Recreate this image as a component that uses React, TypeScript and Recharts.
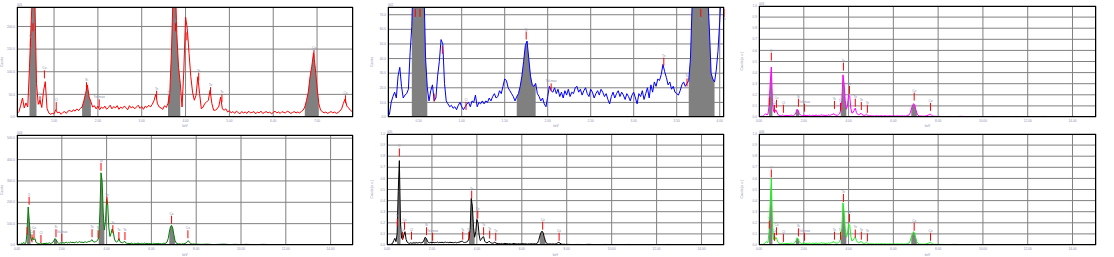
import {
  ComposedChart,
  Line,
  Area,
  XAxis,
  YAxis,
  CartesianGrid,
  ReferenceLine,
} from "recharts";

const TEXT = "#8c8cab";
const GRID = "#808080";
const FONT = "'Liberation Sans', Arial, sans-serif";
const FS = 3.2;

type Peak = [number, number, string];

// 001 – red, counts, 0.16..7.84 keV every 0.04 keV
const s1Start = 0.16;
const s1Step = 0.04;
const s1Counts = [
  8, 12, 26, 42, 20, 31, 22, 110, 214, 300,
  275, 74, 28, 37, 21, 57, 78, 19, 9, 6,
  8, 7, 16, 9, 11, 6, 10, 12, 8, 13,
  15, 11, 16, 13, 18, 14, 19, 22, 36, 52,
  71, 44, 34, 22, 25, 18, 24, 16, 22, 19,
  24, 17, 21, 26, 18, 23, 20, 25, 17, 22,
  19, 24, 21, 16, 25, 20, 23, 18, 22, 26,
  19, 23, 17, 24, 21, 26, 22, 28, 36, 50,
  29, 22, 20, 17, 25, 21, 30, 52, 148, 290,
  320, 185, 110, 74, 22, 100, 221, 195, 140, 89,
  55, 37, 48, 89, 52, 18, 22, 30, 33, 37,
  59, 30, 15, 15, 18, 24, 44, 18, 15, 18,
  11, 14, 9, 12, 8, 13, 10, 7, 12, 9,
  11, 8, 13, 9, 10, 12, 7, 11, 9, 13,
  8, 10, 12, 9, 11, 7, 10, 13, 9, 11,
  8, 12, 10, 9, 13, 11, 8, 10, 12, 9,
  11, 9, 12, 15, 22, 37, 55, 89, 112, 142,
  108, 66, 30, 15, 12, 9, 11, 8, 10, 12,
  9, 11, 8, 10, 13, 18, 30, 40, 24, 20,
  15, 12, 10,
];
const s1XTicks = [1, 2, 3, 4, 5, 6, 7];
const s1YTicks = [0, 50, 100, 150, 200];
const s1Roi = [[0.43, 0.6], [1.62, 1.84], [3.6, 3.9], [6.72, 7.04]];
const s1Peaks: Peak[] = [
  [0.46, 173, "Te"], [0.52, 207, "O"], [0.68, 46, "Co"], [0.78, 103, "Co"],
  [1.05, 33, "Cl"], [1.74, 77, "Si"], [2.03, 39, "TeLmax"], [3.34, 58, "Te"],
  [3.62, 48, "Te"], [3.77, 207, "Te"], [4.03, 187, "Te"], [4.3, 98, "Te"],
  [4.57, 66, "Te"], [4.83, 50, "Te"], [6.93, 148, "Co"], [7.65, 48, "Co"],
];

// 002 – blue, counts, 0.14..4.06 keV every 0.02 keV
const s2Start = 0.14;
const s2Step = 0.02;
const s2Counts = [
  0, 2, 10, 14, 17, 13, 28, 34, 21, 13,
  15, 16, 19, 44, 62, 110, 150, 170, 165, 150,
  120, 90, 40, 20, 11, 18, 22, 11, 13, 28,
  38, 53, 50, 23, 11, 9, 7, 8, 6, 7,
  5, 8, 10, 7, 5, 7, 9, 10, 7, 11,
  10, 15, 7, 10, 9, 11, 9, 11, 10, 13,
  11, 14, 16, 13, 14, 18, 16, 21, 26, 25,
  20, 18, 16, 14, 11, 14, 16, 21, 28, 38,
  49, 52, 40, 28, 22, 21, 23, 16, 14, 11,
  13, 9, 7, 14, 21, 18, 17, 20, 16, 19,
  14, 17, 13, 18, 15, 19, 14, 17, 16, 20,
  21, 17, 19, 15, 18, 20, 16, 14, 19, 17,
  13, 16, 18, 15, 19, 17, 14, 16, 12, 9,
  14, 17, 13, 16, 18, 14, 17, 15, 12, 16,
  14, 11, 15, 17, 13, 9, 16, 14, 18, 12,
  16, 20, 13, 22, 17, 24, 21, 26, 25, 29,
  36, 31, 27, 22, 24, 19, 21, 17, 16, 15,
  18, 22, 24, 21, 23, 25, 40, 78, 95, 130,
  160, 175, 180, 165, 140, 110, 85, 60, 30, 26,
  24, 32, 45, 65, 90, 110, 120,
];
const s2XTicks = [0.5, 1, 1.5, 2, 2.5, 3, 3.5, 4];
const s2YTicks = [0, 10, 20, 30, 40, 50, 60, 70];
const s2Roi = [[0.42, 0.6], [1.64, 1.86], [3.64, 3.94]];
const s2Peaks: Peak[] = [
  [0.46, 74, "Te"], [0.515, 74, "O"], [0.68, 16, ""], [0.775, 48.7, "Co"],
  [1.05, 10.3, "Cl"], [1.75, 58.5, "Si"], [2.04, 23, "TeLmax"], [3.35, 40.6, "Te"],
  [3.62, 26.4, "Te"], [3.78, 74, "Te"], [4.05, 74, "Te"],
];

// 003..006 – 0..7.95 keV every 0.05 keV, then 8..15 keV every 0.25 keV
const fineStart = 0;
const fineStep = 0.05;
const tailStart = 8;
const tailStep = 0.25;
const wideXTicks = [0, 2, 4, 6, 8, 10, 12, 14];
const normYTicks = [0, 0.1, 0.2, 0.3, 0.4, 0.5, 0.6, 0.7, 0.8, 0.9, 1];
const wideRoi = [[0.45, 0.6], [1.65, 1.8], [3.65, 3.9], [6.8, 7.05]];

const s3Fine = [
  0, 0.004, 0.008, 0.006, 0.012, 0.02, 0.03, 0.018, 0.025, 0.1, 0.3, 0.45, 0.14, 0.05, 0.04, 0.065, 0.045, 0.022, 0.015, 0.012,
  0.012, 0.018, 0.01, 0.014, 0.012, 0.016, 0.011, 0.015, 0.013, 0.017, 0.012, 0.015, 0.02, 0.04, 0.07, 0.06, 0.03, 0.018, 0.012, 0.015,
  0.013, 0.016, 0.011, 0.015, 0.012, 0.017, 0.013, 0.011, 0.016, 0.012, 0.014, 0.018, 0.012, 0.015, 0.013, 0.016, 0.02, 0.014, 0.017, 0.013,
  0.016, 0.013, 0.02, 0.014, 0.017, 0.022, 0.025, 0.03, 0.018, 0.015, 0.016, 0.02, 0.03, 0.06, 0.15, 0.38, 0.3, 0.15, 0.07, 0.1,
  0.2, 0.19, 0.08, 0.035, 0.04, 0.06, 0.08, 0.04, 0.025, 0.02, 0.022, 0.035, 0.022, 0.016, 0.014, 0.017, 0.025, 0.015, 0.012, 0.01,
  0.012, 0.009, 0.011, 0.008, 0.01, 0.013, 0.009, 0.011, 0.008, 0.012, 0.01, 0.009, 0.011, 0.013, 0.008, 0.01, 0.009, 0.012, 0.008, 0.011,
  0.009, 0.012, 0.008, 0.01, 0.011, 0.008, 0.01, 0.009, 0.012, 0.008, 0.01, 0.009, 0.011, 0.013, 0.018, 0.035, 0.07, 0.1, 0.12, 0.11,
  0.07, 0.035, 0.015, 0.01, 0.008, 0.01, 0.007, 0.009, 0.008, 0.01, 0.012, 0.016, 0.022, 0.025, 0.018, 0.01, 0.008, 0.006, 0.007, 0.005,
];
const s3Tail = [
  0.006, 0.004, 0.005, 0.003, 0.006, 0.004, 0.003, 0.005, 0.004, 0.003,
  0.005, 0.004, 0.003, 0.004, 0.005, 0.003, 0.004, 0.003, 0.004, 0.005,
  0.003, 0.003, 0.004, 0.003, 0.005, 0.003, 0.003, 0.004, 0.003,
];
const s3Peaks: Peak[] = [
  [0.46, 0.175, "Te"], [0.55, 0.58, "O"], [0.69, 0.11, "Co"], [0.78, 0.155, "Co"],
  [1.09, 0.11, "Cl"], [1.76, 0.165, "Si"], [2.03, 0.12, "TeLmax"], [3.37, 0.145, "Te"],
  [3.64, 0.127, "Te"], [3.77, 0.49, "Te"], [4.04, 0.28, "Te"], [4.3, 0.165, "Te"],
  [4.57, 0.135, "Te"], [4.84, 0.11, "Te"], [6.93, 0.22, "Co"], [7.66, 0.127, "Co"],
];

const s4Fine = [
  0, 2, 4, 3, 8, 5, 12, 6, 10, 60, 178, 110, 40, 20, 35, 24, 30, 12, 9, 7,
  6, 9, 7, 5, 8, 6, 9, 7, 8, 10, 7, 9, 12, 22, 30, 24, 14, 9, 8, 10,
  9, 12, 8, 11, 13, 9, 12, 10, 14, 11, 13, 10, 12, 15, 11, 13, 16, 12, 14, 11,
  13, 15, 12, 14, 17, 16, 20, 25, 16, 14, 15, 18, 22, 35, 150, 338, 300, 150, 70, 110,
  215, 190, 80, 40, 55, 75, 60, 28, 16, 14, 18, 30, 15, 12, 10, 12, 18, 10, 8, 7,
  8, 6, 9, 7, 5, 8, 7, 6, 9, 7, 5, 8, 6, 7, 9, 6, 8, 5, 7, 6,
  7, 5, 8, 6, 7, 5, 8, 6, 7, 5, 6, 8, 7, 9, 14, 30, 60, 85, 92, 80,
  50, 22, 10, 7, 5, 6, 5, 4, 6, 5, 7, 10, 16, 20, 13, 7, 5, 4, 5, 4,
];
const s4Tail = [
  4, 3, 4, 2, 3, 4, 2, 3, 2, 3,
  2, 2, 3, 2, 1, 2, 2, 1, 2, 1,
  2, 1, 1, 2, 1, 1, 1, 2, 1,
];
const s4YTicks = [0, 100, 200, 300, 400, 500];
const s4Peaks: Peak[] = [
  [0.45, 85, "Te"], [0.54, 226, "O"], [0.67, 50, "Co"], [0.76, 69, "Co"],
  [1.07, 47, "Cl"], [1.74, 74, "Si"], [2.0, 53, "TeLmax"], [3.35, 74, "Te"],
  [3.62, 69, "Te"], [3.75, 385, "Te"], [4.02, 226, "Te"], [4.28, 93, "Te"],
  [4.55, 61, "Te"], [4.82, 61, "Te"], [6.9, 137, "Co"], [7.63, 69, "Co"],
];

const s5Fine = [
  0, 0.003, 0.006, 0.005, 0.01, 0.015, 0.04, 0.06, 0.03, 0.1, 0.48, 0.76, 0.2, 0.06, 0.05, 0.09, 0.12, 0.05, 0.025, 0.018,
  0.015, 0.02, 0.016, 0.018, 0.02, 0.017, 0.022, 0.018, 0.02, 0.023, 0.019, 0.021, 0.025, 0.045, 0.07, 0.06, 0.035, 0.022, 0.02, 0.024,
  0.021, 0.025, 0.02, 0.023, 0.022, 0.026, 0.021, 0.024, 0.022, 0.025, 0.02, 0.023, 0.026, 0.022, 0.024, 0.021, 0.025, 0.022, 0.023, 0.02,
  0.022, 0.024, 0.02, 0.023, 0.025, 0.028, 0.032, 0.035, 0.025, 0.022, 0.024, 0.028, 0.035, 0.06, 0.14, 0.42, 0.35, 0.16, 0.07, 0.12,
  0.23, 0.2, 0.09, 0.04, 0.05, 0.07, 0.075, 0.035, 0.022, 0.02, 0.024, 0.035, 0.022, 0.018, 0.016, 0.019, 0.026, 0.017, 0.014, 0.012,
  0.013, 0.011, 0.014, 0.01, 0.012, 0.015, 0.011, 0.013, 0.01, 0.012, 0.011, 0.009, 0.012, 0.014, 0.01, 0.011, 0.009, 0.012, 0.01, 0.011,
  0.01, 0.012, 0.009, 0.011, 0.01, 0.008, 0.011, 0.009, 0.012, 0.01, 0.009, 0.011, 0.01, 0.013, 0.018, 0.04, 0.08, 0.11, 0.125, 0.11,
  0.07, 0.035, 0.016, 0.011, 0.009, 0.01, 0.008, 0.009, 0.01, 0.008, 0.01, 0.013, 0.02, 0.024, 0.016, 0.01, 0.007, 0.006, 0.007, 0.005,
];
const s5Tail = [
  0.006, 0.004, 0.005, 0.004, 0.006, 0.003, 0.004, 0.005, 0.003, 0.004,
  0.003, 0.005, 0.003, 0.004, 0.003, 0.003, 0.004, 0.003, 0.005, 0.003,
  0.003, 0.004, 0.003, 0.002, 0.003, 0.003, 0.002, 0.003, 0.002,
];
const s5Peaks: Peak[] = [
  [0.46, 0.24, "Te"], [0.55, 0.87, "O"], [0.69, 0.12, "Co"], [0.78, 0.21, "Co"],
  [1.09, 0.12, "Cl"], [1.76, 0.16, "Si"], [2.03, 0.11, "TeLmax"], [3.37, 0.12, "Te"],
  [3.64, 0.12, "Te"], [3.77, 0.49, "Te"], [4.04, 0.31, "Te"], [4.3, 0.16, "Te"],
  [4.57, 0.13, "Te"], [4.84, 0.11, "Te"], [6.93, 0.21, "Co"], [7.66, 0.11, "Co"],
];

const s6Fine = [
  0, 0.003, 0.006, 0.005, 0.01, 0.012, 0.025, 0.03, 0.02, 0.12, 0.38, 0.6, 0.18, 0.05, 0.04, 0.07, 0.05, 0.025, 0.016, 0.012,
  0.012, 0.018, 0.011, 0.014, 0.012, 0.016, 0.012, 0.015, 0.013, 0.017, 0.012, 0.015, 0.02, 0.038, 0.065, 0.055, 0.03, 0.018, 0.013, 0.016,
  0.014, 0.017, 0.012, 0.016, 0.013, 0.018, 0.014, 0.012, 0.017, 0.013, 0.015, 0.019, 0.013, 0.016, 0.014, 0.017, 0.02, 0.015, 0.018, 0.014,
  0.016, 0.014, 0.019, 0.015, 0.018, 0.022, 0.026, 0.03, 0.019, 0.016, 0.017, 0.021, 0.03, 0.06, 0.15, 0.38, 0.3, 0.15, 0.07, 0.1,
  0.19, 0.18, 0.08, 0.035, 0.045, 0.06, 0.075, 0.04, 0.025, 0.02, 0.022, 0.035, 0.021, 0.016, 0.014, 0.017, 0.024, 0.015, 0.012, 0.01,
  0.011, 0.009, 0.012, 0.008, 0.01, 0.013, 0.009, 0.011, 0.008, 0.012, 0.01, 0.009, 0.011, 0.012, 0.008, 0.01, 0.009, 0.011, 0.008, 0.01,
  0.009, 0.011, 0.008, 0.01, 0.011, 0.008, 0.01, 0.009, 0.011, 0.008, 0.01, 0.009, 0.011, 0.012, 0.018, 0.035, 0.07, 0.1, 0.12, 0.105,
  0.065, 0.03, 0.014, 0.01, 0.008, 0.009, 0.007, 0.009, 0.008, 0.01, 0.011, 0.015, 0.02, 0.024, 0.017, 0.01, 0.008, 0.006, 0.007, 0.005,
];
const s6Tail = [
  0.006, 0.005, 0.004, 0.006, 0.004, 0.005, 0.003, 0.005, 0.004, 0.003,
  0.005, 0.004, 0.003, 0.004, 0.003, 0.004, 0.003, 0.003, 0.004, 0.003,
  0.003, 0.004, 0.003, 0.003, 0.002, 0.003, 0.003, 0.002, 0.003,
];
const s6Peaks: Peak[] = [
  [0.46, 0.22, "Te"], [0.55, 0.68, "O"], [0.69, 0.11, "Co"], [0.78, 0.16, "Co"],
  [1.09, 0.1, "Cl"], [1.76, 0.15, "Si"], [2.03, 0.11, "TeLmax"], [3.37, 0.12, "Te"],
  [3.64, 0.12, "Te"], [3.77, 0.46, "Te"], [4.04, 0.28, "Te"], [4.3, 0.14, "Te"],
  [4.57, 0.12, "Te"], [4.84, 0.105, "Te"], [6.93, 0.2, "Co"], [7.66, 0.11, "Co"],
];

type Row = { e: number; v: number; g: number | null };

function channels(start: number, step: number, values: number[]) {
  return values.map((v, i) => ({ e: +(start + i * step).toFixed(3), v }));
}

function withRoi(rows: { e: number; v: number }[], rois: number[][]): Row[] {
  return rows.map((r) => ({
    ...r,
    g: rois.some(([a, b]) => r.e >= a && r.e <= b) ? r.v : null,
  }));
}

function wide(fine: number[], tail: number[]) {
  return withRoi(
    [...channels(fineStart, fineStep, fine), ...channels(tailStart, tailStep, tail)],
    wideRoi
  );
}

interface SpectrumProps {
  x: number;
  y: number;
  w: number;
  h: number;
  pl: number;
  pt: number;
  pr: number;
  pb: number;
  rows: Row[];
  xDomain: [number, number];
  yDomain: [number, number];
  xTicks: number[];
  yTicks: number[];
  xDigits: number;
  color: string;
  peaks: Peak[];
  title: string;
  yLabel: string;
}

function Spectrum(p: SpectrumProps) {
  const segLen = (8 * p.yDomain[1]) / (p.pb - p.pt);
  const tick = { fontSize: FS, fill: TEXT, fontFamily: FONT };
  return (
    <div style={{ position: "absolute", left: p.x, top: p.y, width: p.w, height: p.h }}>
      <ComposedChart
        width={p.w}
        height={p.h}
        data={p.rows}
        margin={{ top: p.pt, right: p.w - p.pr, bottom: 0, left: 0 }}
      >
        <CartesianGrid stroke={GRID} strokeWidth={1} />
        <XAxis
          type="number"
          dataKey="e"
          domain={p.xDomain}
          ticks={p.xTicks}
          interval={0}
          allowDataOverflow
          height={p.h - p.pb}
          axisLine={false}
          tickLine={false}
          tickSize={0}
          tickMargin={3}
          tick={tick}
          tickFormatter={(v: number) => v.toFixed(p.xDigits)}
          label={{ value: "keV", position: "insideBottom", offset: 1, fontSize: FS, fill: TEXT, fontFamily: FONT }}
        />
        <YAxis
          type="number"
          domain={p.yDomain}
          ticks={p.yTicks}
          interval={0}
          allowDataOverflow
          width={p.pl}
          axisLine={false}
          tickLine={false}
          tickSize={0}
          tickMargin={2}
          tick={tick}
          tickFormatter={(v: number) => v.toFixed(1)}
          label={{
            value: p.yLabel,
            angle: -90,
            position: "insideLeft",
            offset: 2,
            fontSize: FS,
            fill: TEXT,
            fontFamily: FONT,
            style: { textAnchor: "middle" },
          }}
        />
        <Area
          dataKey="g"
          type="linear"
          fill={GRID}
          fillOpacity={1}
          stroke="none"
          isAnimationActive={false}
        />
        <Line
          dataKey="v"
          type="linear"
          stroke={p.color}
          strokeWidth={1}
          dot={false}
          isAnimationActive={false}
        />
        {p.peaks.map(([e, top, name], i) => {
          const below = top > p.yDomain[1] * 0.95;
          return (
            <ReferenceLine
              key={i}
              segment={[
                { x: e, y: top - segLen },
                { x: e, y: top },
              ]}
              stroke="#ff0000"
              strokeWidth={1}
              label={{
                value: name,
                position: below ? "bottom" : "top",
                offset: 1,
                fontSize: FS,
                fill: TEXT,
                fontFamily: FONT,
              }}
            />
          );
        })}
      </ComposedChart>
      <svg
        width={p.w}
        height={p.h}
        style={{ position: "absolute", left: 0, top: 0, pointerEvents: "none" }}
      >
        <rect
          x={p.pl + 0.5}
          y={p.pt + 0.5}
          width={p.pr - p.pl - 1}
          height={p.pb - p.pt - 1}
          fill="none"
          stroke="#000"
          strokeWidth={1}
        />
        <text x={p.pl} y={p.pt - 1.5} fontSize={FS} fill={TEXT} fontFamily={FONT}>
          {p.title}
        </text>
      </svg>
    </div>
  );
}

export default function App() {
  const rows1 = withRoi(channels(s1Start, s1Step, s1Counts), s1Roi);
  const rows2 = withRoi(channels(s2Start, s2Step, s2Counts), s2Roi);
  return (
    <div
      style={{
        position: "absolute",
        left: 0,
        top: 0,
        width: 1114,
        height: 257,
        background: "#fff",
        fontFamily: FONT,
      }}
    >
      <Spectrum
        x={0} y={0} w={370} h={128} pl={17} pt={7} pr={353} pb={117}
        rows={rows1} xDomain={[0.155, 7.82]} yDomain={[0, 243]}
        xTicks={s1XTicks} yTicks={s1YTicks} xDigits={2}
        color="#ff0000" peaks={s1Peaks} title="001" yLabel="Counts"
      />
      <Spectrum
        x={370} y={0} w={370} h={128} pl={18} pt={7} pr={354} pb={117}
        rows={rows2} xDomain={[0.143, 4.05]} yDomain={[0, 75.3]}
        xTicks={s2XTicks} yTicks={s2YTicks} xDigits={2}
        color="#0000ff" peaks={s2Peaks} title="002" yLabel="Counts"
      />
      <Spectrum
        x={740} y={0} w={374} h={128} pl={19} pt={6} pr={356} pb={117}
        rows={wide(s3Fine, s3Tail)} xDomain={[0, 15.05]} yDomain={[0, 1]}
        xTicks={wideXTicks} yTicks={normYTicks} xDigits={2}
        color="#ff00ff" peaks={s3Peaks} title="003" yLabel="Counts [a.u.]"
      />
      <Spectrum
        x={0} y={128} w={370} h={129} pl={17} pt={7} pr={353} pb={117}
        rows={wide(s4Fine, s4Tail)} xDomain={[0, 15]} yDomain={[0, 515]}
        xTicks={wideXTicks} yTicks={s4YTicks} xDigits={2}
        color="#007f00" peaks={s4Peaks} title="004" yLabel="Counts"
      />
      <Spectrum
        x={370} y={128} w={370} h={129} pl={17} pt={6} pr={354} pb={117}
        rows={wide(s5Fine, s5Tail)} xDomain={[0, 15]} yDomain={[0, 1]}
        xTicks={wideXTicks} yTicks={normYTicks} xDigits={2}
        color="#000000" peaks={s5Peaks} title="005" yLabel="Counts [a.u.]"
      />
      <Spectrum
        x={740} y={128} w={374} h={129} pl={19} pt={6} pr={356} pb={117}
        rows={wide(s6Fine, s6Tail)} xDomain={[0, 15.05]} yDomain={[0, 1]}
        xTicks={wideXTicks} yTicks={normYTicks} xDigits={2}
        color="#22ee22" peaks={s6Peaks} title="006" yLabel="Counts [a.u.]"
      />
    </div>
  );
}
